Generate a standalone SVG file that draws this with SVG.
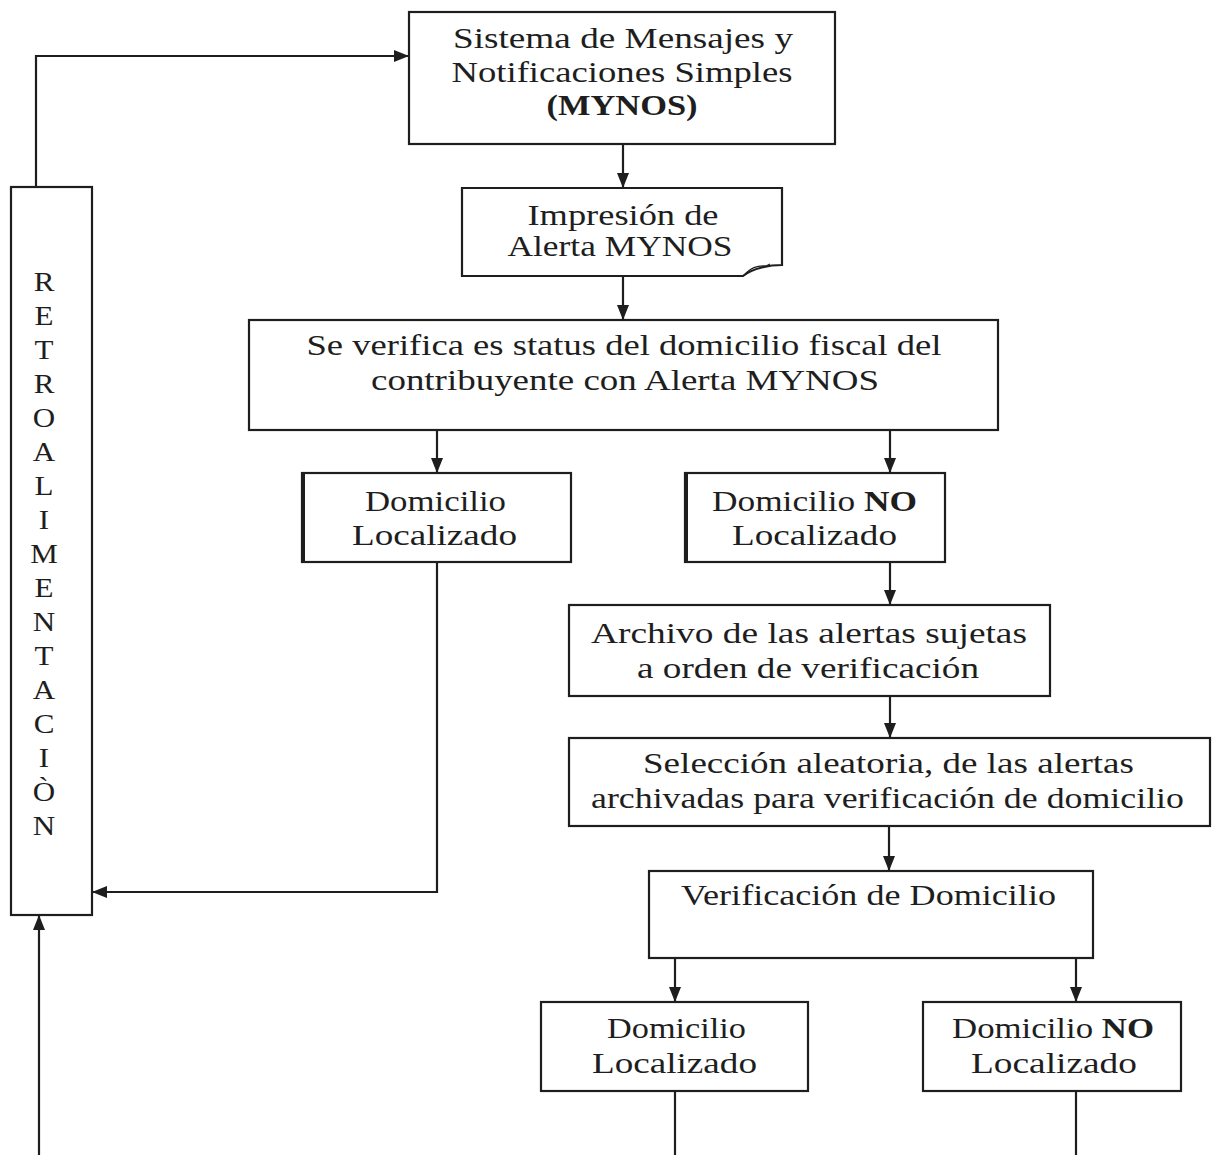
<svg xmlns="http://www.w3.org/2000/svg" width="1218" height="1155" viewBox="0 0 1218 1155">
<style>
  .box{fill:#fff;stroke:#1e1e1e;stroke-width:2.2}
  .edge{stroke:#1e1e1e;stroke-width:4}
  .t{font-family:"Liberation Serif","Times New Roman",serif;font-size:29px;fill:#1e1e1e;text-anchor:middle}
  .v{font-size:27px}
  .b{font-weight:bold}
  .c{fill:none;stroke:#1e1e1e;stroke-width:2.2}
</style>
<defs>
  <marker id="ah" markerUnits="userSpaceOnUse" markerWidth="16" markerHeight="16" viewBox="0 0 16 16" refX="15" refY="8" orient="auto">
    <path d="M0,2 L15,8 L0,14 Z" fill="#1e1e1e"/>
  </marker>
</defs>
<rect width="1218" height="1155" fill="#fff"/>

<g id="connectors">
  <path class="c" d="M36,187 V56 H409" marker-end="url(#ah)"/>
  <path class="c" d="M623,144 V188" marker-end="url(#ah)"/>
  <path class="c" d="M623,277 V320" marker-end="url(#ah)"/>
  <path class="c" d="M437,430 V473" marker-end="url(#ah)"/>
  <path class="c" d="M890,430 V473" marker-end="url(#ah)"/>
  <path class="c" d="M437,563 V892 H92" marker-end="url(#ah)"/>
  <path class="c" d="M890,563 V605" marker-end="url(#ah)"/>
  <path class="c" d="M890,696 V738" marker-end="url(#ah)"/>
  <path class="c" d="M889,826 V871" marker-end="url(#ah)"/>
  <path class="c" d="M675,958 V1002" marker-end="url(#ah)"/>
  <path class="c" d="M1076,958 V1002" marker-end="url(#ah)"/>
  <path class="c" d="M675,1091 V1155"/>
  <path class="c" d="M1076,1091 V1155"/>
  <path class="c" d="M39,1155 V915" marker-end="url(#ah)"/>
</g>

<g id="retroalimentacion">
  <rect class="box" x="11" y="187" width="81" height="728"/>
  <g transform="translate(44,0) scale(1.15,1)">
    <text class="t v" x="0" y="291">R</text>
    <text class="t v" x="0" y="325">E</text>
    <text class="t v" x="0" y="359">T</text>
    <text class="t v" x="0" y="393">R</text>
    <text class="t v" x="0" y="427">O</text>
    <text class="t v" x="0" y="461">A</text>
    <text class="t v" x="0" y="495">L</text>
    <text class="t v" x="0" y="529">I</text>
    <text class="t v" x="0" y="563">M</text>
    <text class="t v" x="0" y="597">E</text>
    <text class="t v" x="0" y="631">N</text>
    <text class="t v" x="0" y="665">T</text>
    <text class="t v" x="0" y="699">A</text>
    <text class="t v" x="0" y="733">C</text>
    <text class="t v" x="0" y="767">I</text>
    <text class="t v" x="0" y="801">Ò</text>
    <text class="t v" x="0" y="835">N</text>
  </g>
</g>

<g id="mynos">
  <rect class="box" x="409" y="12" width="426" height="132"/>
  <text class="t" x="623" y="48" textLength="340" lengthAdjust="spacingAndGlyphs">Sistema de Mensajes y</text>
  <text class="t" x="622" y="82" textLength="341" lengthAdjust="spacingAndGlyphs">Notificaciones Simples</text>
  <text class="t b" x="622" y="115" textLength="151" lengthAdjust="spacingAndGlyphs">(MYNOS)</text>
</g>

<g id="impresion">
  <path class="box" d="M462,188 H782 V265 C770,265 753,268 743,276 H462 Z"/>
  <path d="M746,273 Q754,265 766,266 L770,264" fill="none" stroke="#1e1e1e" stroke-width="1.2"/>
  <text class="t" x="623" y="225" textLength="191" lengthAdjust="spacingAndGlyphs">Impresión de</text>
  <text class="t" x="620" y="256" textLength="225" lengthAdjust="spacingAndGlyphs">Alerta MYNOS</text>
</g>

<g id="verifica-status">
  <rect class="box" x="249" y="320" width="749" height="110"/>
  <text class="t" x="624" y="355" textLength="635" lengthAdjust="spacingAndGlyphs">Se verifica es status del domicilio fiscal del</text>
  <text class="t" x="625" y="390" textLength="508" lengthAdjust="spacingAndGlyphs">contribuyente con Alerta MYNOS</text>
</g>

<g id="localizado-1">
  <rect class="box" x="302" y="473" width="269" height="89"/>
  <line class="edge" x1="303" y1="473" x2="303" y2="562"/>
  <text class="t" x="435.5" y="511" textLength="141" lengthAdjust="spacingAndGlyphs">Domicilio</text>
  <text class="t" x="434.5" y="545" textLength="165" lengthAdjust="spacingAndGlyphs">Localizado</text>
</g>

<g id="no-localizado-1">
  <rect class="box" x="685" y="473" width="260" height="89"/>
  <line class="edge" x1="686" y1="473" x2="686" y2="562"/>
  <text class="t" x="814.5" y="511" textLength="205" lengthAdjust="spacingAndGlyphs">Domicilio <tspan class="b">NO</tspan></text>
  <text class="t" x="814.5" y="545" textLength="165" lengthAdjust="spacingAndGlyphs">Localizado</text>
</g>

<g id="archivo">
  <rect class="box" x="569" y="605" width="481" height="91"/>
  <text class="t" x="809" y="643" textLength="436" lengthAdjust="spacingAndGlyphs">Archivo de las alertas sujetas</text>
  <text class="t" x="808" y="678" textLength="342" lengthAdjust="spacingAndGlyphs">a orden de verificación</text>
</g>

<g id="seleccion">
  <rect class="box" x="569" y="738" width="641" height="88"/>
  <text class="t" x="888.5" y="773" textLength="491" lengthAdjust="spacingAndGlyphs">Selección aleatoria, de las alertas</text>
  <text class="t" x="887.5" y="808" textLength="593" lengthAdjust="spacingAndGlyphs">archivadas para verificación de domicilio</text>
</g>

<g id="verificacion">
  <rect class="box" x="649" y="871" width="444" height="87"/>
  <text class="t" x="868.5" y="905" textLength="375" lengthAdjust="spacingAndGlyphs">Verificación de Domicilio</text>
</g>

<g id="localizado-2">
  <rect class="box" x="541" y="1002" width="267" height="89"/>
  <text class="t" x="676.5" y="1038" textLength="139" lengthAdjust="spacingAndGlyphs">Domicilio</text>
  <text class="t" x="674.5" y="1073" textLength="165" lengthAdjust="spacingAndGlyphs">Localizado</text>
</g>

<g id="no-localizado-2">
  <rect class="box" x="923" y="1002" width="258" height="89"/>
  <text class="t" x="1053" y="1038" textLength="202" lengthAdjust="spacingAndGlyphs">Domicilio <tspan class="b">NO</tspan></text>
  <text class="t" x="1054" y="1073" textLength="166" lengthAdjust="spacingAndGlyphs">Localizado</text>
</g>
</svg>
